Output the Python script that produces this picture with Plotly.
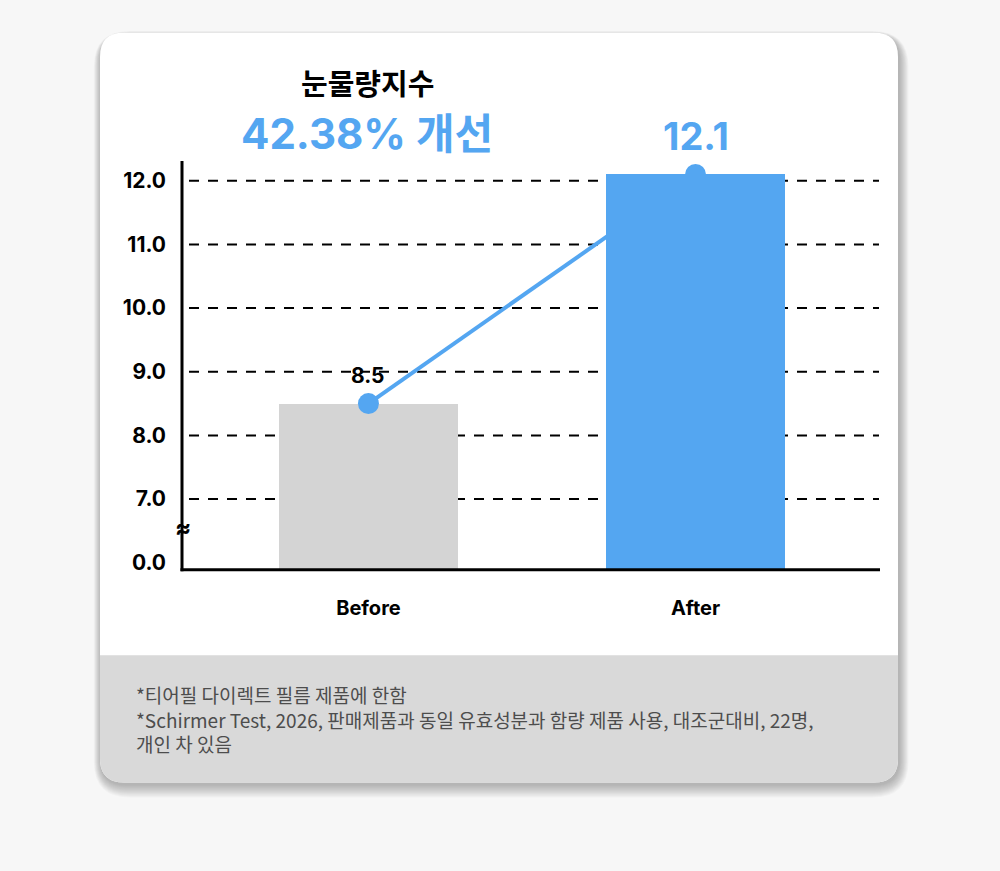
import plotly.graph_objects as go

W, H = 1000, 871

# ---- data ----
categories = ["Before", "After"]
values = [8.5, 12.1]
bar_colors = ["#d4d4d4", "#54a6f1"]
value_labels = ["8.5", "12.1"]
y_tick_values = [0.0, 7.0, 8.0, 9.0, 10.0, 11.0, 12.0]
y_tick_labels = ["0.0", "7.0", "8.0", "9.0", "10.0", "11.0", "12.0"]
title_text = "눈물량지수"
subtitle_text = "42.38% 개선"
footnotes = [
    "*티어필 다이렉트 필름 제품에 한함",
    "*Schirmer Test, 2026, 판매제품과 동일 유효성분과 함량 제품 사용, 대조군대비, 22명,",
    "개인 차 있음",
]

# broken axis: 0 is displayed at 6.0, values >= 7 displayed as is
BREAK_POS = 6.0
Y_MIN, Y_MAX = 5.89, 12.31


def disp(v):
    return BREAK_POS if v < 7 else v


BLUE = "#54a6f1"
FONT = "Inter, 'Noto Sans CJK KR', sans-serif"
KFONT = "'Noto Sans CJK KR', sans-serif"


def px(x):
    return x / W


def py(y):
    return 1 - y / H


def rr_path(x0, y0, x1, y1, r, top=True, bottom=True):
    rt = r if top else 0
    rb = r if bottom else 0
    pts = []
    pts.append(f"M {px(x0 + rt)},{py(y0)}")
    pts.append(f"L {px(x1 - rt)},{py(y0)}")
    if rt:
        pts.append(f"Q {px(x1)},{py(y0)} {px(x1)},{py(y0 + rt)}")
    pts.append(f"L {px(x1)},{py(y1 - rb)}")
    if rb:
        pts.append(f"Q {px(x1)},{py(y1)} {px(x1 - rb)},{py(y1)}")
    pts.append(f"L {px(x0 + rb)},{py(y1)}")
    if rb:
        pts.append(f"Q {px(x0)},{py(y1)} {px(x0)},{py(y1 - rb)}")
    pts.append(f"L {px(x0)},{py(y0 + rt)}")
    if rt:
        pts.append(f"Q {px(x0)},{py(y0)} {px(x0 + rt)},{py(y0)}")
    pts.append("Z")
    return " ".join(pts)


CX0, CY0, CX1, CY1, CR = 100, 33, 898, 787, 24
AX_L, AX_R, AX_T, AX_B = 182, 880, 162, 573

shapes = []
# shadow layers
for i in range(12, 0, -1):
    shapes.append(dict(type="path", xref="paper", yref="paper", layer="below",
                       path=rr_path(CX0 - i * 0.6 + 1, CY0 - i * 0.4 + 3, CX1 + i * 0.8 + 1, CY1 + i * 1.1 + 2, CR + i),
                       fillcolor="rgba(0,0,0,0.024)", line=dict(width=0)))
# card
shapes.append(dict(type="path", xref="paper", yref="paper", layer="below",
                   path=rr_path(CX0, CY0, CX1, CY1, CR), fillcolor="#ffffff", line=dict(width=0)))
# footer
shapes.append(dict(type="path", xref="paper", yref="paper", layer="below",
                   path=rr_path(CX0, 659, CX1, CY1, CR, top=False), fillcolor="#d9d9d9", line=dict(width=0)))
# dashed gridlines
for v in y_tick_values:
    if v >= 7:
        shapes.append(dict(type="line", xref="paper", yref="y", layer="below",
                           x0=px(189), x1=px(879), y0=v, y1=v,
                           line=dict(color="#000000", width=2, dash="10px,9px")))
# axis lines
shapes.append(dict(type="line", xref="paper", yref="paper", layer="above",
                   x0=px(AX_L), x1=px(AX_L), y0=py(AX_B + 1.5), y1=py(AX_T),
                   line=dict(color="#000000", width=3)))
shapes.append(dict(type="line", xref="paper", yref="paper", layer="above",
                   x0=px(AX_L - 1.5), x1=px(AX_R), y0=py(AX_B), y1=py(AX_B),
                   line=dict(color="#000000", width=3)))

fig = go.Figure()
xpos = list(range(len(categories)))
zs = [0, 2]
for i in range(len(categories)):
    fig.add_trace(go.Bar(x=[xpos[i]], y=[disp(values[i]) - Y_MIN], base=Y_MIN,
                         width=0.547, marker=dict(color=bar_colors[i], line=dict(width=0)),
                         zorder=zs[i], hoverinfo="skip", showlegend=False))

fig.add_trace(go.Scatter(x=xpos, y=[disp(v) for v in values], mode="lines+markers",
                         line=dict(color=BLUE, width=4),
                         marker=dict(color=BLUE, size=21),
                         zorder=1, hoverinfo="skip", showlegend=False))

annotations = [
    dict(x=xpos[0], y=disp(values[0]), xref="x", yref="y", text=value_labels[0],
         showarrow=False, yshift=28, yanchor="middle",
         font=dict(family=FONT, size=21, color="#000000", weight=700)),
    dict(x=xpos[1], y=disp(values[1]), xref="x", yref="y", text=value_labels[1],
         showarrow=False, yshift=38, yanchor="middle",
         font=dict(family=FONT, size=38, color=BLUE, weight=700)),
    dict(x=px(367), y=py(82), xref="paper", yref="paper", text=title_text, showarrow=False,
         xanchor="center", yanchor="middle",
         font=dict(family=KFONT, size=29, color="#000000", weight=700)),
    dict(x=px(367), y=py(134), xref="paper", yref="paper", text=subtitle_text, showarrow=False,
         xanchor="center", yanchor="middle",
         font=dict(family=FONT, size=42, color=BLUE, weight=700)),
    dict(x=px(183), y=6.55, xref="paper", yref="y", text="≈", showarrow=False,
         xanchor="center", yanchor="middle",
         font=dict(family=FONT, size=24, color="#000000", weight=700)),
    dict(x=px(134), y=py(723), xref="paper", yref="paper", text="<br>".join(footnotes),
         showarrow=False, xanchor="left", yanchor="middle", align="left",
         font=dict(family=KFONT, size=19, color="#4d4d4d")),
]

fig.update_layout(
    width=W, height=H, autosize=False,
    margin=dict(l=0, r=0, t=0, b=0),
    paper_bgcolor="#f7f7f7", plot_bgcolor="rgba(0,0,0,0)",
    barmode="overlay", bargap=0,
    shapes=shapes, annotations=annotations,
    xaxis=dict(domain=[px(AX_L), px(AX_R)], range=[-0.57, 1.564], tickvals=xpos, ticktext=categories,
               showgrid=False, zeroline=False, showline=False,
               ticks="", ticklabelstandoff=24,
               tickfont=dict(family=FONT, size=20, color="#000000", weight=700), fixedrange=True),
    yaxis=dict(domain=[py(AX_B), py(AX_T)], range=[Y_MIN, Y_MAX],
               tickvals=[disp(v) for v in y_tick_values], ticktext=y_tick_labels,
               showgrid=False, zeroline=False, showline=False,
               ticks="", ticklabelstandoff=15,
               tickfont=dict(family=FONT, size=21, color="#000000", weight=700), fixedrange=True),
)

fig.write_html("out.html", config={"displayModeBar": False},
               post_script="document.body.style.margin='0';document.body.style.background='#f7f7f7';")
